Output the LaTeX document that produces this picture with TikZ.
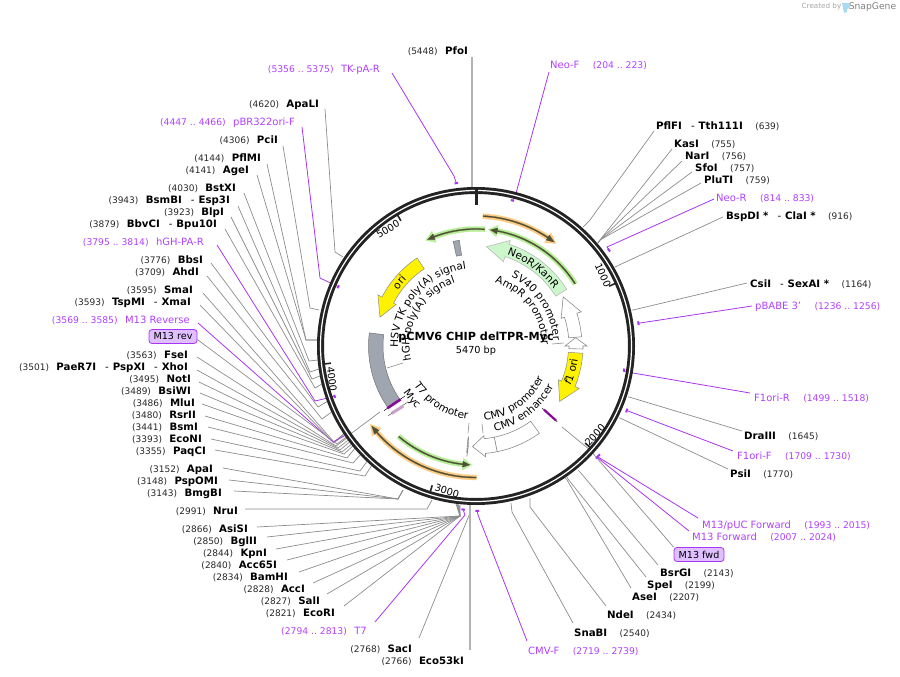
\documentclass[tikz,border=0pt]{standalone}
\usepackage{fontspec}
\setmainfont{DejaVu Sans}
\usetikzlibrary{positioning, calc, decorations.text}
\definecolor{PrimerViolet}{HTML}{A835F5}
\definecolor{PrimerText}{HTML}{B040FF}
\definecolor{CutGray}{HTML}{8C8C8C}
\definecolor{RingDark}{HTML}{232323}
\definecolor{BandOrange}{HTML}{FCCB84}
\definecolor{BandGreen}{HTML}{B4EE94}
\definecolor{BandDark}{HTML}{4F4F38}
\definecolor{NeoGreen}{HTML}{CDF6CD}
\definecolor{SignalGray}{HTML}{A0A6AF}
\definecolor{BoxViolet}{HTML}{E0BFFF}
\definecolor{SnapBlue}{HTML}{A8DAF2}
\definecolor{MycPink}{HTML}{C9A0C8}
\newcommand{\bpdeg}{0.0658135}
\newcommand{\sitegap}{\hspace{9pt}{\mdseries -}\hspace{4pt}}
\newcommand{\maplabel}{\fontsize{10.5}{12}\selectfont}
% feature band: style, tail, head base, tip, r in, r out, head in, head out
\newcommand{\mapband}[8]{
    \draw[#1] ({#2-90}:#6) arc[start angle={#2-90}, end angle={#3-90}, radius=#6]
        -- ({#3-90}:#8) -- ({#4-90}:{(#7+#8)/2}) -- ({#3-90}:#7) -- ({#3-90}:#5)
        arc[start angle={#3-90}, end angle={#2-90}, radius=#5] -- cycle;
}
% curved label: text, middle angle, baseline radius, half span
\newcommand{\arctext}[4]{
    \path[decorate, decoration={text along path, text align=center, text={#1}}]
        ({#2-#4-90}:#3) arc[start angle={#2-#4-90}, end angle={#2+#4-90}, radius=#3];
}

\begin{document}
\begin{tikzpicture}[
    x=1pt, y=-1pt,
    sitename/.style={font=\fontsize{10.2}{12}\selectfont\bfseries, inner sep=0pt,
                     text height=11pt, text depth=2pt},
    sitepos/.style={font=\fontsize{9}{11}\selectfont, text=black!85, inner sep=0pt,
                    text height=11pt, text depth=2pt},
    primername/.style={font=\fontsize{10}{12}\selectfont, text=PrimerText, inner sep=0pt,
                       text height=11pt, text depth=2pt},
    primerrange/.style={font=\fontsize{9.2}{11}\selectfont, text=PrimerText, inner sep=0pt,
                        text height=11pt, text depth=2pt},
    cutline/.style={draw=CutGray, line width=0.7pt},
    heavyline/.style={draw=black!30, line width=1.3pt},
    primerline/.style={draw=PrimerViolet, line width=0.8pt},
    primertick/.style={draw=PrimerViolet, line width=2pt},
    stub/.style={draw=CutGray, line width=0.6pt},
    primerbox/.style={draw=PrimerViolet, fill=BoxViolet, rounded corners=3pt, line width=0.8pt,
                      font=\fontsize{9.6}{11}\selectfont, inner sep=0pt, minimum height=14pt},
    featwhite/.style={draw=black!45, fill=white, line width=0.6pt},
    featyellow/.style={draw=black!45, fill=yellow, line width=0.5pt},
    featgreen/.style={draw=black!30, fill=NeoGreen, line width=0.5pt},
    featgray/.style={draw=black!55, fill=SignalGray, line width=0.5pt},
    glowo/.style={draw=BandOrange, fill=BandOrange, line width=0.2pt},
    glowg/.style={draw=BandGreen, fill=BandGreen, line width=0.2pt},
    core/.style={draw=BandDark, fill=BandDark, line width=0.2pt}
]
    \useasboundingbox (0,0) rectangle (900,677);
    \coordinate (ctr) at (476,346);

    % watermark
    \node[text=black!35, font=\fontsize{7.2}{9}\selectfont, inner sep=0pt] (createdby) at (821.5,7) {Created by};
    \node[text=black!50, font=\fontsize{9.2}{11}\selectfont, inner sep=0pt] (snapgene) at (872.5,7) {SnapGene};
    \fill[SnapBlue] (842,3) -- (848,3) .. controls (851,3) and (851,9) .. (847,9) -- (847,12) -- (844,13) -- cycle;

    % sites on the left
    \foreach \id/\txt/\num/\xr/\yc/\dx/\dy/\ex/\ey/\tx/\ty in {
        ApaLI/ApaLI/4620/319/103/6/6/335/252/343/257,
        PciI/PciI/4306/278/139/5/7/310/308/319/310,
        PflMI/PflMI/4144/261/157/6/7/306/340/317/340,
        AgeI/AgeI/4141/249/169/8/6/306/340/317/340,
        BstXI/BstXI/4030/236/187/8/6/309/361/318/360,
        BsmBI/BsmBI\sitegap Esp3I/3943/230/199/8/7/310/372/319/369,
        BlpI/BlpI/3923/224/211/7/6/312/379/320/376,
        BbvCI/BbvCI\sitegap Bpu10I/3879/217/223/8/6/315/388/322/384,
        BbsI/BbsI/3776/203/259/8/4/318/407/328/401,
        AhdI/AhdI/3709/199/271/8/5/322/419/333/411,
        SmaI/SmaI/3595/193/289/10/4/334/442/347/431,
        TspMI/TspMI\sitegap XmaI/3593/191/301/9/4/334/443/347/432,
        FseI/FseI/3563/188/354/9/3/336/446/350/436,
        PaeRI/PaeR7I\sitegap PspXI\sitegap XhoI/3501/188/366/9/4/338/448/351/438,
        NotI/NotI/3495/191/378/8/4/340/450/352/440,
        BsiWI/BsiWI/3489/191/390/9/3/342/452/354/442,
        MluI/MluI/3486/195/402/7/2/344/454/355/444,
        RsrII/RsrII/3480/196/414/9/2/347/458/356/447,
        BsmI/BsmI/3441/198/426/10/1/353/463/362/453,
        EcoNI/EcoNI/3393/202/438/9/1/360/471/368/460,
        PaqCI/PaqCI/3355/206/450/9/0/365/476/372/465,
        ApaI/ApaI/3152/213/468/10/0/398/499/403/490,
        PspOMI/PspOMI/3148/218/480/11/0/398/499/403/490,
        BmgBI/BmgBI/3143/222/492/12/-1/398/499/403/490,
        NruI/NruI/2991/238/510/7/-1/427/509/432/500,
        AsiSI/AsiSI/2866/248/528/9/-1/460/516/456/504,
        BglII/BglII/2850/257/540/10/-3/460/516/457/504,
        KpnI/KpnI/2844/267/552/9/-3/460/516/457/504,
        AccLXV/Acc65I/2840/277/564/10/-4/460/516/458/504,
        BamHI/BamHI/2834/288/576/11/-4/460/516/458/505,
        AccI/AccI/2828/305/588/8/-5/460/516/459/505,
        SalI/SalI/2827/320/600/7/-6/460/516/459/505,
        EcoRI/EcoRI/2821/335/612/9/-6/460/516/460/505,
        SacI/SacI/2768/412/648/7/-10/470/513/470/505%
    }{
        \node[sitename, anchor=east] (\id) at (\xr,\yc) {\txt};
        \node[sitepos, left=7pt of \id] (\id pos) {(\num)};
        \coordinate (\id end) at (\tx,\ty);
        \draw[cutline] (\id.east) ++(\dx,\dy) -- (\ex,\ey) -- (\id end);
    }

    % the two straight ones at the top and the bottom
    \node[sitename, anchor=east] (PfoI) at (468,50) {PfoI};
    \node[sitepos, left=7pt of PfoI] (PfoI pos) {(5448)};
    \coordinate (PfoI end) at (472,187);
    \draw[heavyline] (PfoI.east) ++(4,7) -- (PfoI end);
    \node[sitename, anchor=east] (EcoLIII) at (464,660) {Eco53kI};
    \node[sitepos, left=7pt of EcoLIII] (EcoLIII pos) {(2766)};
    \coordinate (EcoLIII end) at (470,505);
    \draw[heavyline] (EcoLIII.east) ++(6,-10) -- (EcoLIII end);

    % sites on the right
    \foreach \id/\txt/\num/\xl/\yc/\dx/\dy/\ex/\ey/\tx/\ty in {
        PflFI/PflFI\sitegap Tth111I/639/656/125/-2/6/590/220/583/227,
        KasI/KasI/755/674/143/-2/6/600/240/598/243,
        NarI/NarI/756/685/155/-3/6/600/240/598/243,
        SfoI/SfoI/757/695/167/-3/5/600/240/598/243,
        PluTI/PluTI/759/704/179/-3/4/600/240/598/243,
        BspDI/BspDI *\sitegap ClaI */916/726/215/-3/2/617/266/615/267,
        CsiI/CsiI\sitegap SexAI */1164/750/283/-3/0/633/310/632/310,
        DraIII/DraIII/1645/744/435/-2/-4/629/397/628/397,
        PsiI/PsiI/1770/730/473/-2/-4/620/418/619/418,
        BsrGI/BsrGI/2143/660/572/-2/-7/580/472/578/470,
        SpeI/SpeI/2199/647/584/-1/-7/568/479/567/477,
        AseI/AseI/2207/632/596/-1/-8/567/480/565/478,
        NdeI/NdeI/2434/607/614/-1/-8/530/507/530/498,
        SnaBI/SnaBI/2540/574/632/-1/-9/512/512/511/503%
    }{
        \node[sitename, anchor=west] (\id) at (\xl,\yc) {\txt};
        \node[sitepos, right=12pt of \id] (\id pos) {(\num)};
        \coordinate (\id end) at (\tx,\ty);
        \draw[cutline] (\id.west) ++(\dx,\dy) -- (\ex,\ey) -- (\id end);
    }

    % primers on the left
    \foreach \id/\txt/\s/\e/\xr/\yc/\dx/\dy/\ex/\ey/\r in {
        TKpAR/TK-pA-R/5356/5375/380/68/12/5/454/176/164,
        pBRori/pBR322ori-F/4447/4466/295/121/7/6/320/278/150,
        hGHPAR/hGH-PA-R/3795/3814/204/241/13/4/315/401/150,
        Mrev/M13 Reverse/3569/3585/190/319/8/4/333/442/153,
        Tseven/T7/2794/2813/367/630/8/-8/465/515/164%
    }{
        \node[primername, anchor=east] (\id) at (\xr,\yc) {\txt};
        \node[primerrange, left=7pt of \id] (\id pos) {(\s\ ..\ \e)};
        \coordinate (\id a) at ($(ctr)+({\s*\bpdeg-90}:\r)$);
        \coordinate (\id b) at ($(ctr)+({\e*\bpdeg-90}:\r)$);
        \coordinate (\id tick) at ($(\id a)!0.5!(\id b)$);
        \draw[primerline] (\id.east) ++(\dx,\dy) -- (\ex,\ey) -- (\id tick);
        \draw[primertick] (\id a) -- (\id b);
    }

    % primers on the right
    \foreach \id/\txt/\s/\e/\xl/\yc/\dx/\dy/\ex/\ey/\r in {
        NeoF/Neo-F/204/223/550/64/-1/8/515/197/150,
        NeoR/Neo-R/814/833/716/197/-2/2/607/247/164,
        pBABE/pBABE 3'/1236/1256/755/305/-3/1/640/323/164,
        FoneR/F1ori-R/1499/1518/754/397/-4/-4/627/372/150,
        FoneF/F1ori-F/1709/1730/737/455/-4/-4/628/411/164,
        MpUC/{M13/pUC Forward}/1993/2015/702/524/-4/-6/598/457/164.5,
        Mfwd/M13 Forward/2007/2024/692/536/-3/-5/598/458/164.5,
        CMVF/CMV-F/2719/2739/528/650/-1/-9/478/515/165%
    }{
        \node[primername, anchor=west] (\id) at (\xl,\yc) {\txt};
        \node[primerrange, right=13pt of \id] (\id pos) {(\s\ ..\ \e)};
        \coordinate (\id a) at ($(ctr)+({\s*\bpdeg-90}:\r)$);
        \coordinate (\id b) at ($(ctr)+({\e*\bpdeg-90}:\r)$);
        \coordinate (\id tick) at ($(\id a)!0.5!(\id b)$);
        \draw[primerline] (\id.west) ++(\dx,\dy) -- (\ex,\ey) -- (\id tick);
        \draw[primertick] (\id a) -- (\id b);
    }

    % binding site boxes
    \node[primerbox, minimum width=48pt] (M13rev) at (173,336.5) {M13 rev};
    \node[primerbox, minimum width=50pt] (M13fwd) at (699,554.5) {M13 fwd};
    \coordinate (M13rev feat) at (380,412);
    \coordinate (M13fwd feat) at (562,427);
    \draw[cutline] (M13rev.east) ++(0,3) -- (337,444) -- (M13rev feat);
    \draw[cutline] (M13fwd.north west) -- (590,450) -- (M13fwd feat);

    % the ring
    \draw[RingDark, line width=7pt] (ctr) circle[radius=155.5];
    \draw[white, line width=1.2pt] (ctr) circle[radius=155.5];

    \begin{scope}[shift={(476,346)}]
        % ring ticks
        \draw[RingDark, line width=3pt] (0,-159) -- (0,-141);
        \foreach \t in {1000,2000,3000,4000,5000}
            \draw[RingDark, line width=1.6pt] ({\t*\bpdeg-90}:153) -- ({\t*\bpdeg-90}:146);

        % open reading frame arrows
        \mapband{glowo}{3}{33.5}{38}{127.5}{132.5}{124}{136}
        \mapband{core}{3.2}{33.5}{37}{129.5}{130.7}{127}{133}
        \mapband{glowg}{58}{10.5}{6}{114.5}{119.5}{111}{123}
        \mapband{core}{57.8}{10.5}{7}{116.4}{117.6}{114}{120}
        \mapband{glowg}{4.4}{-21}{-25.5}{114.5}{119.5}{111}{123}
        \mapband{core}{4.2}{-21}{-24.5}{116.4}{117.6}{114}{120}
        \mapband{glowo}{179.7}{229}{233.5}{129}{134}{125.5}{137.5}
        \mapband{core}{179.9}{229}{232.5}{130.9}{132.1}{128.5}{134.5}
        \mapband{glowg}{220.6}{186.4}{182}{116.5}{121.5}{113}{125}
        \mapband{core}{220.4}{186.4}{183}{118.4}{119.6}{116}{122}

        % features
        \mapband{featgreen}{58}{18}{6}{94}{107}{88.7}{111}
        \mapband{featwhite}{85}{72}{60.6}{93}{106}{89.5}{110.6}
        \mapband{featwhite}{91.6}{90}{85.2}{93}{107}{89}{111}
        \mapband{featyellow}{93.9}{112.3}{123.5}{92.5}{107}{89}{111.7}
        \mapband{featwhite}{144}{168.7}{168.7}{93}{107.8}{93}{107.8}
        \mapband{featwhite}{168.7}{175}{182}{93}{107.8}{90}{111.3}
        \mapband{featwhite}{185}{184.7}{184.4}{93}{107}{91}{111}
        \mapband{featgray}{235.3}{277}{277}{93}{107.5}{93}{107.5}
        \mapband{featyellow}{-33.8}{-62.5}{-73.3}{93}{106}{90}{110.6}
        \mapband{featgray}{-12.3}{-9}{-9}{92}{107}{92}{107}
    \end{scope}

    % thin marks for the short features
    \coordinate (revA) at (384,410.7);   \coordinate (revB) at (405,396);
    \coordinate (revC) at (387.3,408.3); \coordinate (revD) at (400.7,399.3);
    \coordinate (mycA) at (388.3,415.7); \coordinate (mycB) at (406.7,402.7);
    \coordinate (mycC) at (391.7,413.3); \coordinate (mycD) at (403.3,406);
    \coordinate (fwdA) at (542.3,408.3); \coordinate (fwdB) at (557.3,421.7);
    \coordinate (fwdC) at (544,409.7);   \coordinate (fwdD) at (556,420.5);
    \draw[black, line width=0.5pt] (revA) -- (revB);
    \draw[violet!80!PrimerViolet, line width=2.6pt] (revC) -- (revD);
    \draw[black!70, line width=0.5pt] (mycA) -- (mycB);
    \draw[MycPink, line width=3pt] (mycC) -- (mycD);
    \draw[black, line width=0.5pt] (fwdA) -- (fwdB);
    \draw[violet!80!PrimerViolet, line width=2.2pt] (fwdC) -- (fwdD);

    % stubs from curved labels to their features
    \coordinate (hghlab) at (387,368);   \coordinate (hghfeat) at (403,363);
    \coordinate (t7lab) at (469,423);    \coordinate (t7feat) at (468,433);
    \coordinate (cmvlab) at (482,424);   \coordinate (cmvfeat) at (483,433);
    \coordinate (amplab) at (552,344);   \coordinate (ampfeat) at (564,343);
    \draw[stub] (hghlab) -- (hghfeat);
    \draw[stub] (t7lab) -- (t7feat);
    \draw[stub] (cmvlab) -- (cmvfeat);
    \draw[stub] (amplab) -- (ampfeat);

    % ring numbers
    \node[font=\fontsize{9.8}{11}\selectfont, rotate=-66, inner sep=0pt] (kbA) at (603,275) {1000};
    \node[font=\fontsize{9.8}{11}\selectfont, rotate=48, inner sep=0pt] (kbB) at (595,435) {2000};
    \node[font=\fontsize{9.8}{11}\selectfont, rotate=-17, inner sep=0pt] (kbC) at (447,491) {3000};
    \node[font=\fontsize{9.8}{11}\selectfont, rotate=-83, inner sep=0pt] (kbD) at (332,379) {4000};
    \node[font=\fontsize{9.8}{11}\selectfont, rotate=31, inner sep=0pt] (kbE) at (388,229) {5000};

    % curved labels
    \begin{scope}[shift={(476,346)}]
        \arctext{|\maplabel|HSV TK poly(A) signal}{311}{78}{75}
        \arctext{|\maplabel|hGH poly(A) signal}{299.7}{66.5}{80}
        \arctext{|\maplabel|SV40 promoter}{56.4}{77.5}{60}
        \arctext{|\maplabel|AmpR promoter}{53}{66}{70}
        \arctext{|\maplabel|NeoR/KanR}{36.3}{96.5}{40}
        \arctext{|\maplabel|ori}{-50.3}{96}{25}
        \arctext{|\maplabel|T7 promoter}{212}{73.5}{-70}
        \arctext{|\maplabel|Myc}{230.4}{86.5}{-30}
        \arctext{|\maplabel|CMV promoter}{144.6}{75}{-70}
        \arctext{|\maplabel|CMV enhancer}{142.5}{87.5}{-60}
        \arctext{|\maplabel\itshape|f|\maplabel\upshape|1 ori}{105}{102.5}{-25}
    \end{scope}

    % centre
    \node[font=\fontsize{11.2}{13}\selectfont\bfseries, inner sep=0pt] (title) at (476,337) {pCMV6 CHIP delTPR-Myc};
    \node[font=\fontsize{9.7}{11}\selectfont, inner sep=0pt, below=3pt of title] (size) {5470 bp};
\end{tikzpicture}
\end{document}
